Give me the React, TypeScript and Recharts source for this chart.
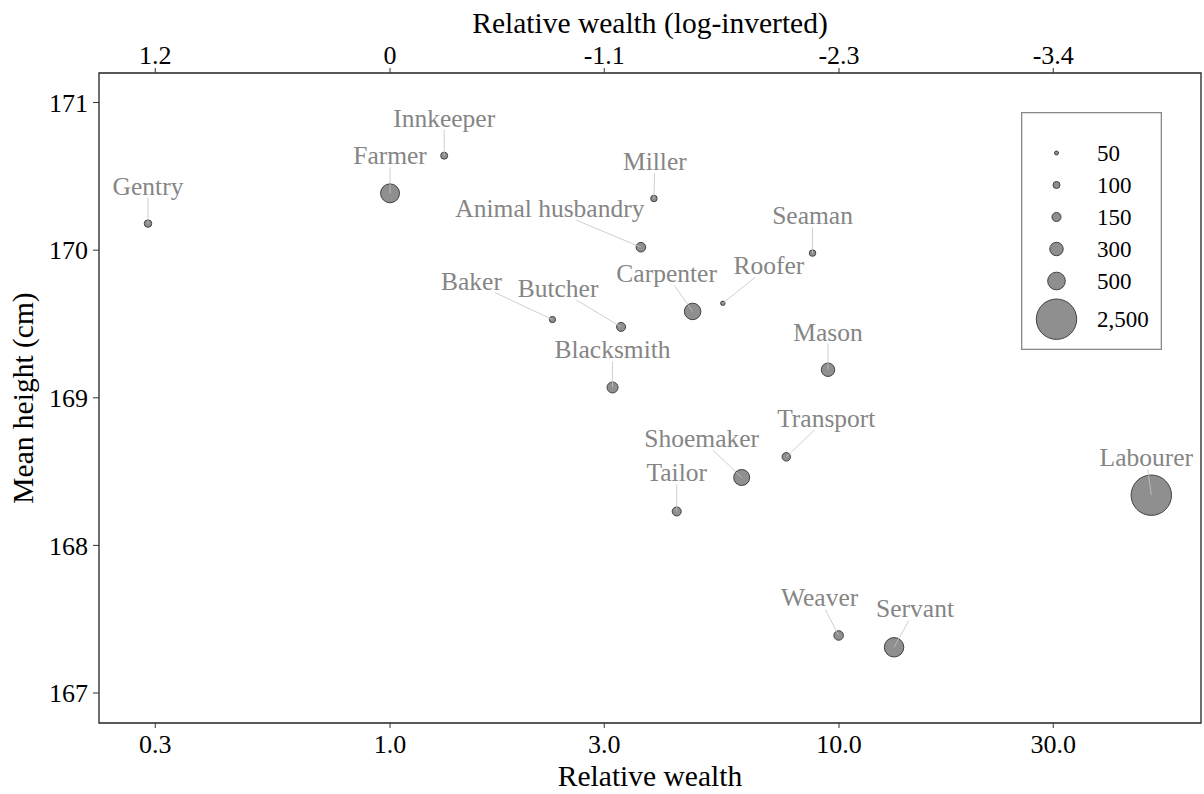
import React from 'react';
import {
    ScatterChart,
    Scatter,
    XAxis,
    YAxis,
    ZAxis,
    ReferenceArea,
    Legend,
} from 'recharts';

const occupations = [
    'Gentry', 'Farmer', 'Innkeeper', 'Miller', 'Animal husbandry', 'Seaman',
    'Baker', 'Butcher', 'Carpenter', 'Roofer', 'Blacksmith', 'Mason',
    'Transport', 'Shoemaker', 'Tailor', 'Labourer', 'Weaver', 'Servant',
];
const relativeWealth = [
    0.289, 1.0, 1.32, 3.87, 3.62, 8.73,
    2.3, 3.27, 4.72, 5.51, 3.13, 9.45,
    7.63, 6.07, 4.35, 49.6, 9.98, 13.26,
];
const meanHeight = [
    170.18, 170.385, 170.64, 170.35, 170.02, 169.98,
    169.53, 169.48, 169.585, 169.64, 169.07, 169.19,
    168.6, 168.46, 168.23, 168.34, 167.39, 167.31,
];
const sampleSize = [
    110, 570, 100, 90, 165, 90,
    85, 150, 440, 55, 210, 300,
    135, 415, 150, 2500, 165, 600,
];

const wealthTicks = [0.3, 1, 3, 10, 30];
const wealthTickLabels = ['0.3', '1.0', '3.0', '10.0', '30.0'];
const logWealthTickLabels = ['1.2', '0', '-1.1', '-2.3', '-3.4'];
const heightTicks = [167, 168, 169, 170, 171];
const legendSizes = [50, 100, 150, 300, 500, 2500];
const legendLabels = ['50', '100', '150', '300', '500', '2,500'];

// where ggrepel put each label: [dx of text centre, dy of baseline] from the point
const labelOffsets: Record<string, [number, number]> = {
    Gentry: [0, -29],
    Farmer: [0, -29],
    Innkeeper: [0, -29],
    Miller: [1, -28],
    'Animal husbandry': [-91, -30],
    Seaman: [0, -29],
    Baker: [-81, -30],
    Butcher: [-63, -30],
    Carpenter: [-26, -29],
    Roofer: [46, -29],
    Blacksmith: [0, -29],
    Mason: [0, -29],
    Transport: [40, -30],
    Shoemaker: [-40, -30],
    Tailor: [0, -30],
    Labourer: [-5, -29],
    Weaver: [-19, -29],
    Servant: [21, -30],
};

const rows = occupations.map((name, i) => ({
    name,
    wealth: relativeWealth[i],
    height: meanHeight[i],
    n: sampleSize[i],
}));

const FONT = '"Liberation Serif", "Times New Roman", serif';
const LABEL_SIZE = 25.5;
const X_DOMAIN: [number, number] = [0.2248, 64];
const Y_DOMAIN: [number, number] = [166.797, 171.2];
const SIZE_DOMAIN: [number, number] = [50, 2500];
const AREA_RANGE: [number, number] = [Math.PI * 4, Math.PI * 408];

const radiusFor = (n: number) => {
    const t = (n - SIZE_DOMAIN[0]) / (SIZE_DOMAIN[1] - SIZE_DOMAIN[0]);
    return Math.sqrt((AREA_RANGE[0] + t * (AREA_RANGE[1] - AREA_RANGE[0])) / Math.PI);
};

let ctx: CanvasRenderingContext2D | null = null;
const textWidth = (s: string, size: number) => {
    if (!ctx) ctx = document.createElement('canvas').getContext('2d');
    if (!ctx) return s.length * size * 0.45;
    ctx.font = `${size}px "Liberation Serif"`;
    return ctx.measureText(s).width;
};

const LabelMark = (props: any) => {
    const { cx, cy } = props;
    const name: string = props.payload?.name ?? props.name;
    const [dx, dy] = labelOffsets[name] || [0, -29];
    const w = textWidth(name, LABEL_SIZE);
    const tx = cx + dx;
    const by = cy + dy;
    // segment goes from the label box edge towards the point centre
    const bcx = tx;
    const bcy = by - 8;
    const hw = w / 2 + 2;
    const hh = 11;
    const vx = cx - bcx;
    const vy = cy - bcy;
    const t = Math.min(
        vx ? hw / Math.abs(vx) : Infinity,
        vy ? hh / Math.abs(vy) : Infinity,
    );
    return (
        <g>
            {t < 1 && (
                <line
                    x1={bcx + vx * t}
                    y1={bcy + vy * t}
                    x2={cx}
                    y2={cy}
                    stroke="#c4c4c4"
                    strokeWidth={0.8}
                />
            )}
            <text
                x={tx}
                y={by}
                textAnchor="middle"
                fontSize={LABEL_SIZE}
                fontFamily={FONT}
                fill="#858585"
            >
                {name}
            </text>
        </g>
    );
};

const SizeKey = () => {
    let y = 25;
    return (
        <svg width={141} height={238} style={{ display: 'block' }}>
            <rect x={0.65} y={0.65} width={139.7} height={236.7} fill="#fff" stroke="#888" strokeWidth={1.3} />
            {legendSizes.map((n, i) => {
                const r = radiusFor(n);
                const h = Math.max(32, 2 * r + 4);
                const cy = y + h / 2;
                y += h;
                return (
                    <g key={n}>
                        <circle cx={35.5} cy={cy} r={r} fill="#8f8f8f" stroke="#333" strokeWidth={0.9} />
                        <text x={76} y={cy} dy="0.35em" fontSize={23} fontFamily={FONT} fill="#000">
                            {legendLabels[i]}
                        </text>
                    </g>
                );
            })}
        </svg>
    );
};

const tickStyle = { fill: '#000', fontSize: 26, fontFamily: FONT };

export default function App() {
    return (
        <div style={{ position: 'absolute', left: 0, top: 0, background: '#fff' }}>
            <ScatterChart
                width={1204}
                height={794}
                margin={{ top: 0, right: 3, bottom: 0, left: 0 }}
                style={{ fontFamily: FONT }}
            >
                <XAxis
                    xAxisId="b"
                    dataKey="wealth"
                    type="number"
                    scale="log"
                    domain={X_DOMAIN}
                    allowDataOverflow
                    ticks={wealthTicks}
                    tickFormatter={(v: number) => wealthTickLabels[wealthTicks.indexOf(v)] ?? String(v)}
                    height={71}
                    axisLine={false}
                    tickLine={{ stroke: '#333' }}
                    tickSize={5}
                    tickMargin={7}
                    tick={tickStyle}
                    label={{ value: 'Relative wealth', position: 'insideBottom', offset: 8, fill: '#000', fontSize: 29.5, fontFamily: FONT }}
                />
                <XAxis
                    xAxisId="t"
                    orientation="top"
                    dataKey="wealth"
                    type="number"
                    scale="log"
                    domain={X_DOMAIN}
                    allowDataOverflow
                    ticks={wealthTicks}
                    tickFormatter={(v: number) => logWealthTickLabels[wealthTicks.indexOf(v)] ?? ''}
                    height={73}
                    axisLine={false}
                    tickLine={{ stroke: '#333' }}
                    tickSize={5}
                    tickMargin={4}
                    tick={tickStyle}
                    label={{ value: 'Relative wealth (log-inverted)', position: 'insideTop', offset: 11.6, fill: '#000', fontSize: 29.5, fontFamily: FONT }}
                />
                <YAxis
                    dataKey="height"
                    type="number"
                    domain={Y_DOMAIN}
                    allowDataOverflow
                    ticks={heightTicks}
                    width={99}
                    axisLine={false}
                    tickLine={{ stroke: '#333' }}
                    tickSize={6}
                    tickMargin={5}
                    tick={tickStyle}
                    label={{
                        value: 'Mean height (cm)',
                        angle: -90,
                        position: 'insideLeft',
                        offset: 22.5,
                        fill: '#000',
                        fontSize: 29.5,
                        fontFamily: FONT,
                        style: { textAnchor: 'middle' },
                    }}
                />
                <ZAxis dataKey="n" type="number" domain={SIZE_DOMAIN} range={AREA_RANGE} />
                <ReferenceArea
                    xAxisId="b"
                    x1={X_DOMAIN[0]}
                    x2={X_DOMAIN[1]}
                    y1={Y_DOMAIN[0]}
                    y2={Y_DOMAIN[1]}
                    fill="none"
                    fillOpacity={0}
                    stroke="#222"
                    strokeWidth={1.3}
                />
                <Scatter
                    xAxisId="b"
                    data={rows}
                    fill="#8f8f8f"
                    stroke="#333"
                    strokeWidth={0.9}
                    isAnimationActive={false}
                />
                <Scatter
                    xAxisId="t"
                    data={rows}
                    shape={LabelMark}
                    isAnimationActive={false}
                />
                <Legend
                    layout="horizontal"
                    verticalAlign="middle"
                    align="center"
                    wrapperStyle={{ left: 1021, top: 112, width: 141, height: 238 }}
                    content={() => <SizeKey />}
                />
            </ScatterChart>
        </div>
    );
}
